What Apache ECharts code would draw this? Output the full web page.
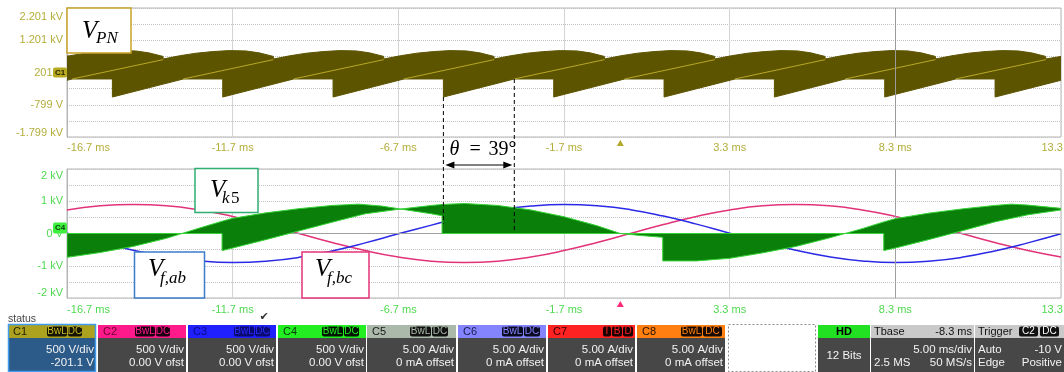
<!DOCTYPE html>
<html><head><meta charset="utf-8">
<script src="https://cdn.jsdelivr.net/npm/echarts@6/dist/echarts.min.js"></script>
<style>html,body{margin:0;padding:0;background:#fff}#c{width:1064px;height:372px}</style>
</head><body><div id="c"></div>
<script>
// ---------- DATA (time in ms measured from the left screen edge = -16.7 ms) ----------
const xTickLabels = ['-16.7 ms','-11.7 ms','-6.7 ms','-1.7 ms','3.3 ms','8.3 ms','13.3 ms'];
const topYLabels = ['-1.799 kV','','-799 V','','201 V','','1.201 kV','','2.201 kV'];
const botYLabels = ['-2 kV','','-1 kV','','0 V','','1 kV','','2 kV'];
const topCenterKV = 0.201;      // C1 offset: screen centre = 201 V

// V_PN switching band, upper envelope [t, kV]
const vpnUpper = [[0,0.71],[0.07,0.72],[0.57,0.80],[1.07,0.85],[1.57,0.88],[2.07,0.87],[2.47,0.81],[2.90,0.70],
 [2.90,0.62],[3.40,0.72],[3.90,0.80],[4.40,0.85],[4.90,0.88],[5.40,0.87],[5.80,0.81],[6.23,0.70],
 [6.23,0.62],[6.73,0.72],[7.23,0.80],[7.73,0.85],[8.23,0.88],[8.73,0.87],[9.13,0.81],[9.56,0.70],
 [9.56,0.62],[10.06,0.72],[10.56,0.80],[11.06,0.85],[11.56,0.88],[12.06,0.87],[12.46,0.81],[12.89,0.70],
 [12.89,0.62],[13.39,0.72],[13.89,0.80],[14.39,0.85],[14.89,0.88],[15.39,0.87],[15.79,0.81],[16.22,0.70],
 [16.22,0.62],[16.72,0.72],[17.22,0.80],[17.72,0.85],[18.22,0.88],[18.72,0.87],[19.12,0.81],[19.55,0.70],
 [19.55,0.62],[20.05,0.72],[20.55,0.80],[21.05,0.85],[21.55,0.88],[22.05,0.87],[22.45,0.81],[22.88,0.70],
 [22.88,0.62],[23.38,0.72],[23.88,0.80],[24.38,0.85],[24.88,0.88],[25.38,0.87],[25.78,0.81],[26.21,0.70],
 [26.21,0.62],[26.71,0.72],[27.21,0.80],[27.71,0.85],[28.21,0.88],[28.71,0.87],[29.11,0.81],[29.54,0.70],
 [29.54,0.62],[30,0.70]];
// V_PN lower envelope [t, kV]
const vpnLower = [[0,-0.04],[0.16,0],[1.37,0],[1.37,-0.56],[3.51,0],[4.70,0],[4.70,-0.56],[6.84,0],[8.03,0],[8.03,-0.56],
 [10.17,0],[11.36,0],[11.36,-0.56],[13.50,0],[14.69,0],[14.69,-0.56],[16.83,0],[18.02,0],[18.02,-0.56],[20.16,0],
 [21.35,0],[21.35,-0.56],[23.49,0],[24.68,0],[24.68,-0.56],[26.82,0],[28.01,0],[28.01,-0.56],[30,-0.04]];
// bright trace inside the V_PN band (segments)
const vpnTrace = [[[0.16,0],[2.90,0.60]],[[3.51,0],[6.23,0.60]],[[6.84,0],[9.56,0.60]],[[10.17,0],[12.89,0.60]],
 [[13.50,0],[16.22,0.60]],[[16.83,0],[19.55,0.60]],[[20.16,0],[22.88,0.60]],[[23.49,0],[26.21,0.60]],[[26.82,0],[29.54,0.60]]];

// V_k5 switching band: its two edges [t, kV]
const vk5EdgeA = [[0,-0.74],[1,-0.59],[2,-0.40],[3,-0.15],[4,0.17],[4.68,0.38],[5,0.47],[6,0.64],[7,0.77],[8,0.87],
 [8.8,0.91],[9.5,0.85],[10,0.77],[11,0.61],[11.32,0.55],[11.32,0],[24.65,0],[24.65,-0.53],[25,-0.45],[26,-0.19],
 [27,0.08],[28,0.36],[29,0.58],[30,0.73]];
const vk5EdgeB = [[0,0],[4.68,0],[4.68,-0.53],[5,-0.45],[6,-0.19],[7,0.08],[8,0.35],[8.8,0.56],[9,0.61],[10,0.75],
 [11,0.87],[11.32,0.90],[12,0.93],[13,0.87],[14,0.73],[15,0.52],[16,0.24],[16.7,0],[17.3,-0.06],[17.98,-0.12],
 [17.98,-0.85],[19,-0.85],[20,-0.77],[21,-0.60],[22,-0.40],[23,-0.14],[24,0.15],[24.65,0.36],[25,0.46],[26,0.63],
 [27,0.76],[28,0.87],[28.5,0.91],[29,0.88],[30,0.78]];

// line voltages (kV) sampled each ms
const vfTime = [0,1,2,3,4,5,6,7,8,9,10,11,12,13,14,15,16,17,18,19,20,21,22,23,24,25,26,27,28,29,30];
const vfbc = [0.73,0.86,0.90,0.86,0.73,0.53,0.28,0,-0.28,-0.53,-0.73,-0.86,-0.90,-0.86,-0.73,-0.53,-0.28,0,0.28,0.53,0.73,0.86,0.90,0.86,0.73,0.53,0.28,0,-0.28,-0.53,-0.73];
const vfab = [0.01,-0.26,-0.52,-0.72,-0.85,-0.90,-0.86,-0.74,-0.54,-0.29,-0.01,0.26,0.52,0.72,0.85,0.90,0.86,0.74,0.54,0.29,0.01,-0.26,-0.52,-0.72,-0.85,-0.90,-0.86,-0.74,-0.54,-0.29,-0.01];

const thetaMark = [11.36, 13.50];   // interval marked theta = 39 deg
const triggerT = 16.7;              // 0 ms
const darkGridT = 25;               // 8.3 ms line

// ---------- CHART ----------
const FF = 'Liberation Sans';
const topCol = '#b3ad3a', botCol = '#4fd94f';
const chart = echarts.init(document.getElementById('c'), null, {renderer:'canvas', width:1064, height:372});

function xAxisCfg(gi, col, margin){
  return {type:'value', gridIndex:gi, min:0, max:30, interval:5,
    axisLine:{show:true, lineStyle:{color:'#b5b5b5'}}, axisTick:{show:false},
    axisLabel:{color:col, fontSize:11, fontFamily:FF, margin:margin, showMaxLabel:true, hideOverlap:false,
      formatter:v=>{const i=Math.round(v/5); return i===0?'{l|'+xTickLabels[i]+'}':xTickLabels[i];},
      rich:{l:{padding:[0,0,0,43], color:col, fontSize:11, fontFamily:FF}}},
    splitLine:{show:true, lineStyle:{color:'#d4d4d4', width:1, type:'solid'}}};
}
function yAxisCfg(gi, col, labels, padT, padB){
  return {type:'value', gridIndex:gi, min:-2, max:2, interval:0.5,
    axisLine:{show:true, lineStyle:{color:'#b5b5b5'}}, axisTick:{show:false},
    axisLabel:{color:col, fontSize:11, fontFamily:FF, margin:4,
      formatter:v=>{const i=Math.round((v+2)/0.5); const s=labels[i];
        if(i===8) return '{t|'+s+'}'; if(i===0) return '{b|'+s+'}'; return s;},
      rich:{t:{padding:[padT,0,0,0], color:col, fontSize:11, fontFamily:FF},
            b:{padding:[0,0,padB,0], color:col, fontSize:11, fontFamily:FF}}},
    splitLine:{show:true, lineStyle:{color:'#c2c2c2', width:1, type:[1,1]}}};
}
function band(edgeA, edgeB, off, fill, stroke){
  return (params, api) => {
    const pts = edgeA.map(p=>api.coord([p[0], p[1]-off]))
      .concat(edgeB.slice().reverse().map(p=>api.coord([p[0], p[1]-off])));
    return {type:'polygon', shape:{points:pts}, style:{fill:fill, stroke:stroke, lineWidth:1}};
  };
}
const traceData = [];
vpnTrace.forEach(seg=>{ seg.forEach(p=>traceData.push([p[0], p[1]-topCenterKV])); traceData.push([seg[1][0],'-']); });

const option = {
  animation:false,
  textStyle:{fontFamily:FF},
  grid:[
    {left:67, top:8, width:994, height:129, show:true, borderColor:'#b5b5b5', borderWidth:1, containLabel:false, outerBoundsMode:'none'},
    {left:67, top:169, width:994, height:129, show:true, borderColor:'#b5b5b5', borderWidth:1, containLabel:false, outerBoundsMode:'none'}
  ],
  xAxis:[xAxisCfg(0, topCol, 5), xAxisCfg(1, botCol, 6)],
  yAxis:[yAxisCfg(0, topCol, topYLabels, 18, 8), yAxisCfg(1, botCol, botYLabels, 14, 10)],
  series:[
    {type:'line', xAxisIndex:0, yAxisIndex:0, data:[], z:1, silent:true,
     markLine:{silent:true, symbol:'none', label:{show:false}, lineStyle:{color:'#9a9a9a', type:'solid', width:1}, data:[{xAxis:darkGridT}]}},
    {type:'custom', name:'V_PN', xAxisIndex:0, yAxisIndex:0, data:[[0,0]], z:3, silent:true, clip:true,
     renderItem: band(vpnUpper, vpnLower, topCenterKV, '#5d5400', '#5d5400')},
    {type:'line', xAxisIndex:0, yAxisIndex:0, data:traceData, z:4, symbol:'none', connectNulls:false, silent:true,
     lineStyle:{color:'#b8a826', width:1}},
    {type:'line', xAxisIndex:1, yAxisIndex:1, data:[], z:1, silent:true,
     markLine:{silent:true, symbol:'none', label:{show:false}, lineStyle:{color:'#a0a0a0', type:'solid', width:1}, data:[{xAxis:darkGridT},{yAxis:0}]}},
    {type:'line', name:'V_f,bc', xAxisIndex:1, yAxisIndex:1, data:vfTime.map((t,i)=>[t,vfbc[i]]), smooth:true, symbol:'none', z:2,
     lineStyle:{color:'#e2337a', width:1.5}},
    {type:'line', name:'V_f,ab', xAxisIndex:1, yAxisIndex:1, data:vfTime.map((t,i)=>[t,vfab[i]]), smooth:true, symbol:'none', z:2,
     lineStyle:{color:'#2a2ae6', width:1.5}},
    {type:'custom', name:'V_k5', xAxisIndex:1, yAxisIndex:1, data:[[0,0]], z:5, silent:true, clip:true,
     renderItem: band(vk5EdgeA, vk5EdgeB, 0, '#0a800a', '#34d234')}
  ]
};
chart.setOption(option);

// ---------- ANNOTATIONS / STATUS BAR ----------
const P0 = p => chart.convertToPixel({xAxisIndex:0, yAxisIndex:0}, [p[0], p[1]-topCenterKV]);
const P1 = p => chart.convertToPixel({xAxisIndex:1, yAxisIndex:1}, p);
const G = [];
function R(x,y,w,h,fill,stroke,lw,extra){ G.push({type:'rect', z:100, silent:true, shape:Object.assign({x:x,y:y,width:w,height:h}, extra||{}), style:{fill:fill, stroke:stroke||null, lineWidth:lw||0}}); }
function T(x,y,text,font,fill,align,z){ G.push({type:'text', x:x, y:y, z:z||110, silent:true,
  style:{text:text, font:font, fill:fill, align:align||'left', verticalAlign:'middle', textAlign:align||'left', textVerticalAlign:'middle'}}); }
function L(x1,y1,x2,y2,stroke,lw,dash){ G.push({type:'line', z:105, silent:true, shape:{x1:x1,y1:y1,x2:x2,y2:y2}, style:{stroke:stroke, lineWidth:lw, lineDash:dash||null}}); }
function PG(pts,fill,z){ G.push({type:'polygon', z:z||106, silent:true, shape:{points:pts}, style:{fill:fill}}); }

const SERIF = '"Liberation Serif"';
// label boxes
R(67,8,64,45,'#fff','#c9a227',1.5);
T(82,31,'V','italic 25px '+SERIF,'#000'); T(96,39,'PN','italic 17px '+SERIF,'#000');
R(195,168.5,63,44,'#fff','#2fae71',1.5);
T(210,190,'V','italic 25px '+SERIF,'#000'); T(222,199,'k','italic 17px '+SERIF,'#000'); T(231,199,'5','17px '+SERIF,'#000');
R(134.5,252,70,46,'#fff','#3d7cc9',1.5);
T(148,269,'V','italic 25px '+SERIF,'#000'); T(160,279,'f,ab','italic 17px '+SERIF,'#000');
R(302,252,67,46,'#fff','#e4357a',1.5);
T(315,269,'V','italic 25px '+SERIF,'#000'); T(327,279,'f,bc','italic 17px '+SERIF,'#000');

// theta marker
const a0 = P0([thetaMark[0], -0.56]), a1 = P1([thetaMark[0], 0.30]);
const b0 = P0([thetaMark[1], 0]), b1 = P1([thetaMark[1], 0.05]);
L(a0[0], a0[1], a1[0], a1[1], '#000', 1, [4,3]);
L(b0[0], b0[1], b1[0], b1[1], '#000', 1, [4,3]);
const ay = P1([0,2])[1] - 4;
L(a0[0]+8, ay, b0[0]-8, ay, '#000', 1);
PG([[a0[0]+2,ay],[a0[0]+11,ay-3.5],[a0[0]+11,ay+3.5]], '#000');
PG([[b0[0]-2,ay],[b0[0]-11,ay-3.5],[b0[0]-11,ay+3.5]], '#000');
T(a0[0]+6, ay-15, 'θ', 'italic 20px '+SERIF, '#000');
T(a0[0]+26, ay-15, '=', '20px '+SERIF, '#000');
T(a0[0]+45, ay-15, '39°', '20px '+SERIF, '#000');

// channel tags on the axes
const c1y = P0([0, topCenterKV])[1];
R(53,c1y-5,14,10,'#b8aa1e',null,0,{r:2}); T(60,c1y,'C1','bold 8px "Liberation Sans"','#1e1e00','center');
const c4y = P1([0,0])[1] - 6;
R(53,c4y-5,14,11,'#3ef03e',null,0,{r:2}); T(60,c4y,'C4','bold 8px "Liberation Sans"','#0a3a0a','center');

// trigger markers
const tx0 = P0([triggerT,0])[0], tx1 = P1([triggerT,0])[0];
const gb0 = P0([0,-1.799])[1], gb1 = P1([0,-2])[1];
PG([[tx0-3.5,gb0+9],[tx0+3.5,gb0+9],[tx0,gb0+3]], '#b3a82a');
PG([[tx1-3.5,gb1+9],[tx1+3.5,gb1+9],[tx1,gb1+3]], '#ff2a7a');

// status bar
T(8,319,'status','10.5px "Liberation Sans"','#444');
T(264,317,'✔','11px "DejaVu Sans"','#333','center');
const HT=325, HH=13, BT=338, BH=34;
const chanBoxes = [
 {x:8, w:88, name:'C1', hdr:'#ada21f', nf:'#1e1e00', bfg:'#c8b926', bbg:'#141400', badges:[['BwL',47,20],['DC',68,14]], l1:'500 V/div', l2:'-201.1 V', body:'#2d5b89', sel:true},
 {x:98, w:88, name:'C2', hdr:'#ff1a8c', nf:'#6a0030', bfg:'#ff1a8c', bbg:'#1a0010', badges:[['BwL',135,20],['DC',156,14]], l1:'500 V/div', l2:'0.00 V ofst'},
 {x:188, w:88, name:'C3', hdr:'#2020ff', nf:'#0a0a8a', bfg:'#2a2aff', bbg:'#0a0a70', badges:[['BwL',234,20],['DC',255,15]], l1:'500 V/div', l2:'0.00 V ofst'},
 {x:278, w:88, name:'C4', hdr:'#22ee22', nf:'#0a3a0a', bfg:'#22ee22', bbg:'#001400', badges:[['BwL',322,21],['DC',344,15]], l1:'500 V/div', l2:'0.00 V ofst'},
 {x:367, w:89, name:'C5', hdr:'#aab9aa', nf:'#1a1a1a', bfg:'#aab9aa', bbg:'#111111', badges:[['BwL',410,21],['DC',432,16]], l1:'5.00 A/div', l2:'0 mA offset'},
 {x:458, w:88, name:'C6', hdr:'#8484ff', nf:'#1a1a4a', bfg:'#8484ff', bbg:'#0a0a20', badges:[['BwL',502,21],['DC',524,16]], l1:'5.00 A/div', l2:'0 mA offset'},
 {x:548, w:87, name:'C7', hdr:'#ff2222', nf:'#3a0000', bfg:'#ff2222', bbg:'#1a0000', badges:[['I',603,8],['B',612,10],['D',623,10]], l1:'5.00 A/div', l2:'0 mA offset'},
 {x:637, w:88, name:'C8', hdr:'#ff8010', nf:'#2a1000', bfg:'#ff8010', bbg:'#1a0a00', badges:[['BwL',681,21],['DC',703,19]], l1:'5.00 A/div', l2:'0 mA offset'}
];
const bodyFont = '11.5px "Liberation Sans"', hdrFont = '11px "Liberation Sans"', badgeFont = '10px "Liberation Sans"';
chanBoxes.forEach(b=>{
  R(b.x, HT, b.w, HH, b.hdr);
  R(b.x, BT, b.w, BH, b.body||'#474747');
  if (b.sel) R(b.x+0.5, HT-0.5, b.w-1, HH+BH, null, '#3f9cf0', 1.5);
  T(b.x+5, HT+HH/2, b.name, hdrFont, b.nf);
  b.badges.forEach(g=>{ R(g[1], HT+1.5, g[2], HH-3, b.bbg, null, 0, {r:2}); T(g[1]+g[2]/2, HT+HH/2, g[0], badgeFont, b.bfg, 'center', 112); });
  T(b.x+b.w-2, 349.5, b.l1, bodyFont, '#f2f2f2', 'right');
  T(b.x+b.w-2, 362.5, b.l2, bodyFont, '#f2f2f2', 'right');
});
G.push({type:'rect', z:100, silent:true, shape:{x:728.5,y:HT-0.5,width:87,height:HH+BH}, style:{fill:'#fff', stroke:'#8a8a8a', lineWidth:1, lineDash:[2,2]}});
// HD
R(818,HT,52,HH,'#22e022'); R(818,BT,52,BH,'#474747');
T(844,HT+HH/2,'HD','bold 11px "Liberation Sans"','#000','center');
T(844,356,'12 Bits',bodyFont,'#f2f2f2','center');
// Tbase
R(871,HT,103,HH,'#c9c9c9'); R(871,BT,103,BH,'#474747');
T(874,HT+HH/2,'Tbase',hdrFont,'#111'); T(972,HT+HH/2,'-8.3 ms',hdrFont,'#111','right');
T(972,349.5,'5.00 ms/div',bodyFont,'#f2f2f2','right');
T(874,362.5,'2.5 MS',bodyFont,'#f2f2f2'); T(972,362.5,'50 MS/s',bodyFont,'#f2f2f2','right');
// Trigger
R(975,HT,92,HH,'#c9c9c9'); R(975,BT,92,BH,'#474747');
T(978,HT+HH/2,'Trigger',hdrFont,'#111');
R(1019,HT+1.5,19,HH-3,'#111',null,0,{r:2}); T(1028.5,HT+HH/2,'C2',badgeFont,'#fff','center',112);
R(1040,HT+1.5,19,HH-3,'#111',null,0,{r:2}); T(1049.5,HT+HH/2,'DC',badgeFont,'#fff','center',112);
T(978,349.5,'Auto',bodyFont,'#f2f2f2'); T(1062,349.5,'-10 V',bodyFont,'#f2f2f2','right');
T(978,362.5,'Edge',bodyFont,'#f2f2f2'); T(1062,362.5,'Positive',bodyFont,'#f2f2f2','right');

chart.setOption({graphic:{elements:G}});
</script></body></html>
